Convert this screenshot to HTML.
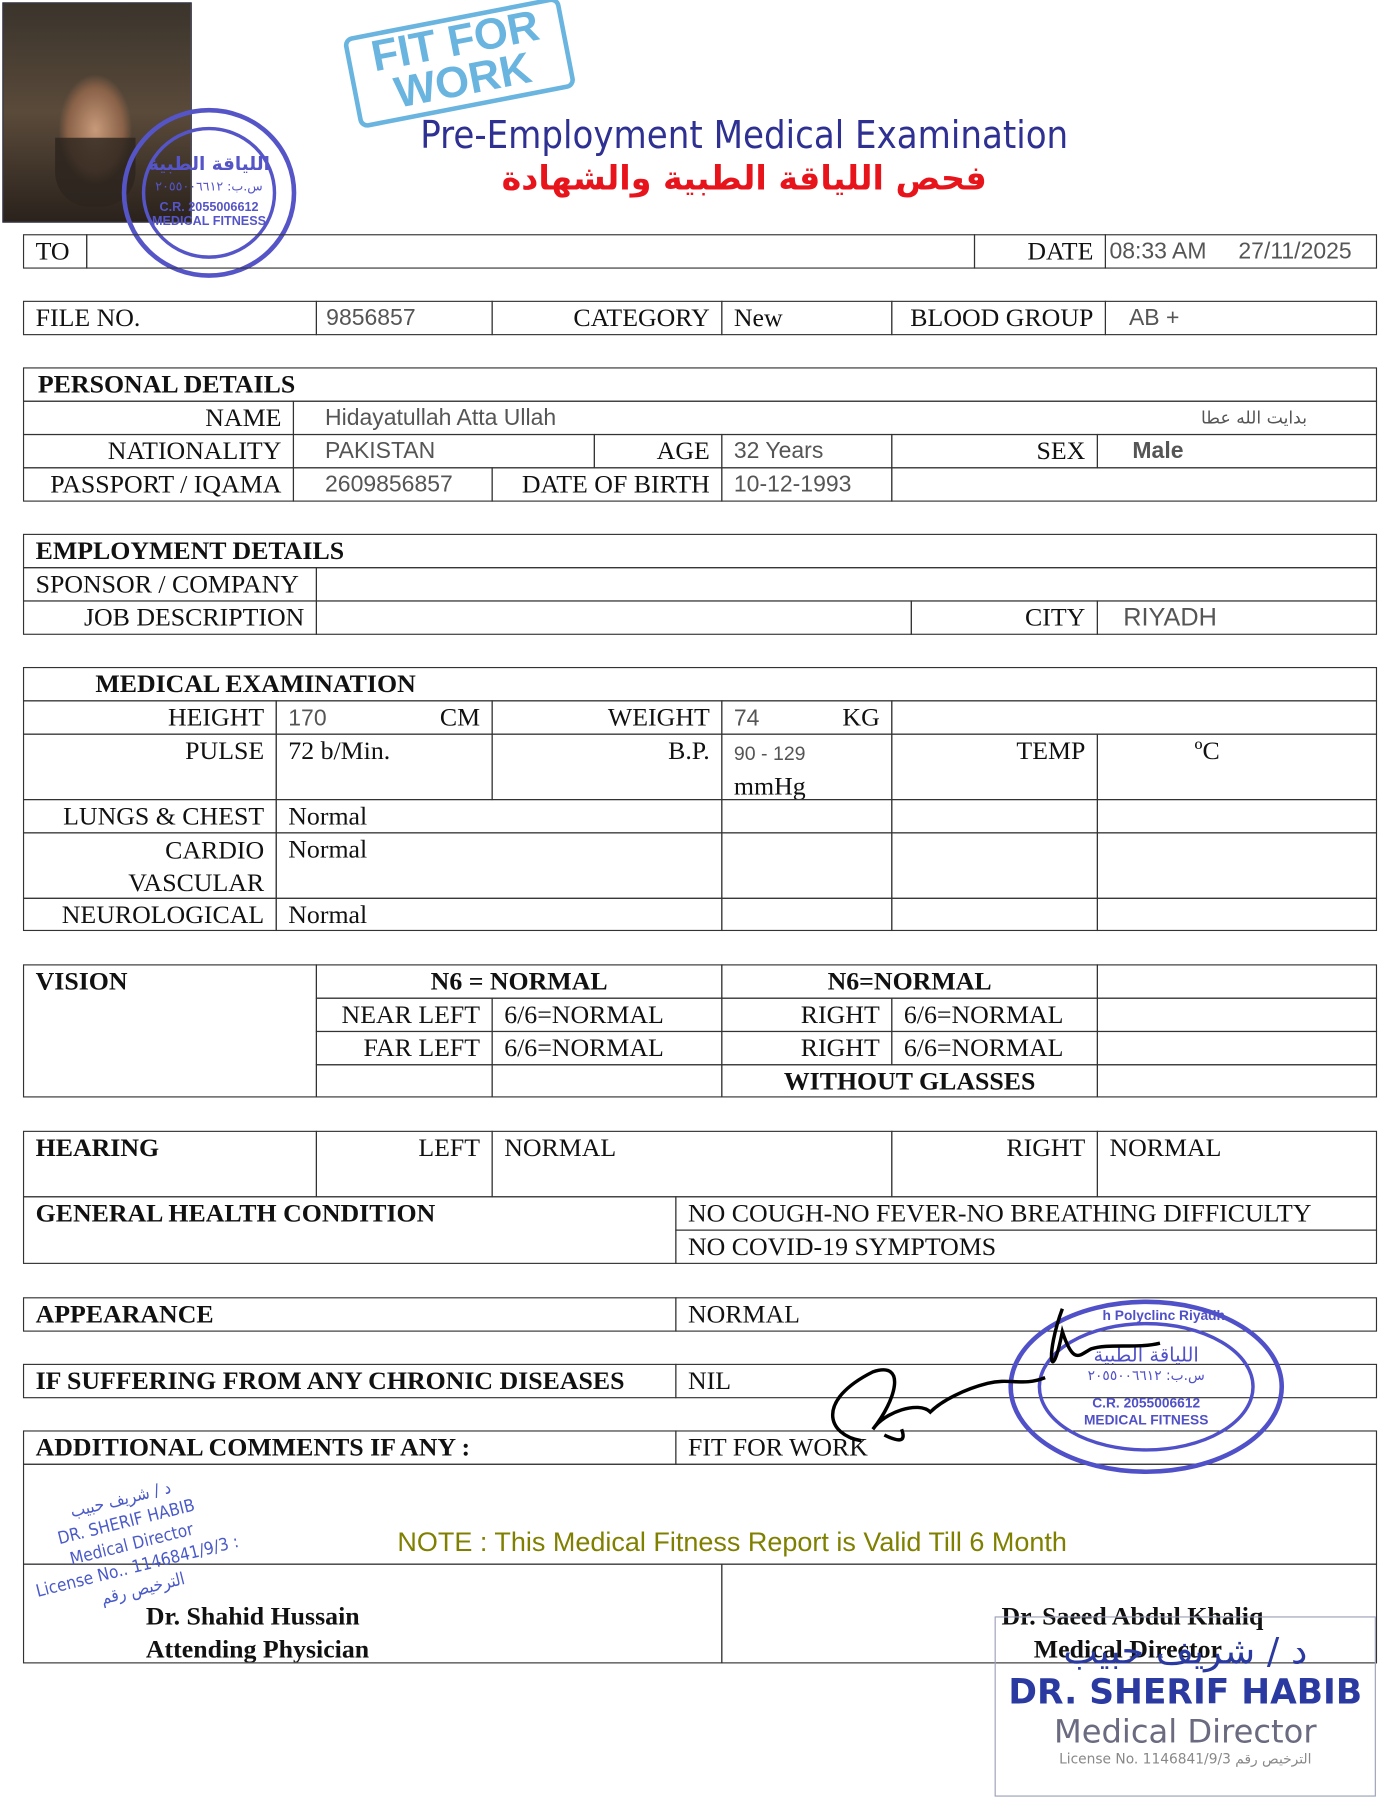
<!DOCTYPE html>
<html><head><meta charset="utf-8"><style>
body{margin:0;background:#fff;width:1400px;height:1800px;overflow:hidden}
#w{position:absolute;left:0;top:0;width:1210px;height:1568px;transform:scale(1.1485,1.148);transform-origin:0 0}
.c{position:absolute;border:1.4px solid #333;box-sizing:border-box;font-family:"Liberation Serif",serif;font-size:22.5px;color:#111;padding:1px 10px;line-height:26px;white-space:nowrap;overflow:hidden}
.r{text-align:right}
.b{font-weight:bold}
.v{font-family:"Liberation Sans",sans-serif;font-size:20px;color:#555}
.ab{position:absolute}
</style></head><body><div id="w">
<div class="ab" style="left:2px;top:2px;width:163px;height:190px;background:radial-gradient(ellipse 40px 60px at 80px 110px,#c79a7a,#8a6248 60%,transparent 80%),linear-gradient(#3a342c,#5a4a3a 50%,#2a221c);border:1px solid #223"></div>
<div class="ab" style="left:48px;top:120px;width:70px;height:60px;border-radius:0 0 30px 30px;background:#2c241e;opacity:.8"></div>
<svg class="ab" style="left:100px;top:90px" width="165" height="160"><ellipse cx="82" cy="78" rx="74" ry="72" fill="none" stroke="#5555c8" stroke-width="4"/><ellipse cx="82" cy="78" rx="57" ry="56" fill="none" stroke="#5555c8" stroke-width="3"/>
<text x="82" y="58" text-anchor="middle" font-family="DejaVu Sans" font-size="16" font-weight="bold" fill="#5555c8">اللياقة الطبية</text>
<text x="82" y="76" text-anchor="middle" font-family="DejaVu Sans" font-size="11" fill="#5555c8">س.ب: ٢٠٥٥٠٠٦٦١٢</text>
<text x="82" y="94" text-anchor="middle" font-family="Liberation Sans" font-size="11" font-weight="bold" fill="#5555c8">C.R. 2055006612</text>
<text x="82" y="106" text-anchor="middle" font-family="Liberation Sans" font-size="11" font-weight="bold" fill="#5555c8">MEDICAL FITNESS</text></svg>
<div class="ab" style="left:304px;top:14px;width:184px;height:72px;border:4px solid #6ab4e0;border-radius:8px;transform:rotate(-11deg);color:#6ab4e0;font-family:'Liberation Sans',sans-serif;font-weight:bold;font-size:38px;line-height:35px;text-align:center;padding-top:1px">FIT FOR<br>WORK</div>
<div class="ab" style="left:300px;top:98px;width:696px;text-align:center;font-family:'DejaVu Sans Condensed','DejaVu Sans',sans-serif;font-size:33px;color:#2e3192">Pre-Employment Medical Examination</div>
<div class="ab" style="left:300px;top:138px;width:696px;text-align:center;font-family:'DejaVu Sans',sans-serif;font-weight:bold;font-size:29px;color:#e8141c">فحص اللياقة الطبية والشهادة</div>

<div class="c" style="left:20px;top:204px;width:56px;height:30px">TO</div>
<div class="c" style="left:75px;top:204px;width:774px;height:30px"></div>
<div class="c r" style="left:848px;top:204px;width:115px;height:30px">DATE</div>
<div class="c v" style="left:962px;top:204px;width:237px;height:30px;padding-left:3px">08:33 AM &nbsp;&nbsp;&nbsp;&nbsp;27/11/2025</div>

<div class="c" style="left:20px;top:262px;width:256px;height:30px">FILE NO.</div>
<div class="c v" style="left:275px;top:262px;width:154px;height:30px;padding-left:8px">9856857</div>
<div class="c r" style="left:428px;top:262px;width:201px;height:30px">CATEGORY</div>
<div class="c" style="left:628px;top:262px;width:149px;height:30px">New</div>
<div class="c r" style="left:776px;top:262px;width:187px;height:30px">BLOOD GROUP</div>
<div class="c v" style="left:962px;top:262px;width:237px;height:30px;padding-left:20px">AB +</div>

<div class="c b" style="left:20px;top:320px;width:1179px;height:30px;padding-left:12px">PERSONAL DETAILS</div>
<div class="c r" style="left:20px;top:349px;width:236px;height:30px">NAME</div>
<div class="c v" style="left:255px;top:349px;width:944px;height:30px;padding-left:27px">Hidayatullah Atta Ullah<span style="position:absolute;right:60px;font-family:'DejaVu Sans';font-size:15px">بدايت الله عطا</span></div>
<div class="c r" style="left:20px;top:378px;width:236px;height:30px">NATIONALITY</div>
<div class="c v" style="left:255px;top:378px;width:263px;height:30px;padding-left:27px">PAKISTAN</div>
<div class="c r" style="left:517px;top:378px;width:112px;height:30px">AGE</div>
<div class="c v" style="left:628px;top:378px;width:149px;height:30px">32 Years</div>
<div class="c r" style="left:776px;top:378px;width:180px;height:30px">SEX</div>
<div class="c v b" style="left:955px;top:378px;width:244px;height:30px;padding-left:30px">Male</div>
<div class="c r" style="left:20px;top:407px;width:236px;height:30px">PASSPORT / IQAMA</div>
<div class="c v" style="left:255px;top:407px;width:174px;height:30px;padding-left:27px">2609856857</div>
<div class="c r" style="left:428px;top:407px;width:201px;height:30px">DATE OF BIRTH</div>
<div class="c v" style="left:628px;top:407px;width:149px;height:30px">10-12-1993</div>
<div class="c" style="left:776px;top:407px;width:423px;height:30px"></div>

<div class="c b" style="left:20px;top:465px;width:1179px;height:30px">EMPLOYMENT DETAILS</div>
<div class="c" style="left:20px;top:494px;width:256px;height:30px">SPONSOR / COMPANY</div>
<div class="c" style="left:275px;top:494px;width:924px;height:30px"></div>
<div class="c r" style="left:20px;top:523px;width:256px;height:30px">JOB DESCRIPTION</div>
<div class="c" style="left:275px;top:523px;width:519px;height:30px"></div>
<div class="c r" style="left:793px;top:523px;width:163px;height:30px">CITY</div>
<div class="c v" style="left:955px;top:523px;width:244px;height:30px;padding-left:22px;font-size:22px">RIYADH</div>

<div class="c b" style="left:20px;top:581px;width:1179px;height:30px;padding-left:62px">MEDICAL EXAMINATION</div>
<div class="c r" style="left:20px;top:610px;width:221px;height:30px">HEIGHT</div>
<div class="c" style="left:240px;top:610px;width:189px;height:30px"><span class="v">170</span><span style="position:absolute;right:10px">CM</span></div>
<div class="c r" style="left:428px;top:610px;width:201px;height:30px">WEIGHT</div>
<div class="c" style="left:628px;top:610px;width:149px;height:30px"><span class="v">74</span><span style="position:absolute;right:10px">KG</span></div>
<div class="c" style="left:776px;top:610px;width:423px;height:30px"></div>
<div class="c r" style="left:20px;top:639px;width:221px;height:58px">PULSE</div>
<div class="c" style="left:240px;top:639px;width:189px;height:58px">72 b/Min.</div>
<div class="c r" style="left:428px;top:639px;width:201px;height:58px">B.P.</div>
<div class="c" style="left:628px;top:639px;width:149px;height:58px;line-height:28px"><span class="v" style="font-size:17px">90 - 129</span><br>mmHg</div>
<div class="c r" style="left:776px;top:639px;width:180px;height:58px">TEMP</div>
<div class="c" style="left:955px;top:639px;width:244px;height:58px;padding-left:84px">ºC</div>
<div class="c r" style="left:20px;top:696px;width:221px;height:30px">LUNGS &amp; CHEST</div>
<div class="c" style="left:240px;top:696px;width:389px;height:30px">Normal</div>
<div class="c" style="left:628px;top:696px;width:149px;height:30px"></div>
<div class="c" style="left:776px;top:696px;width:180px;height:30px"></div>
<div class="c" style="left:955px;top:696px;width:244px;height:30px"></div>
<div class="c r" style="left:20px;top:725px;width:221px;height:58px;line-height:28px">CARDIO<br>VASCULAR</div>
<div class="c" style="left:240px;top:725px;width:389px;height:58px">Normal</div>
<div class="c" style="left:628px;top:725px;width:149px;height:58px"></div>
<div class="c" style="left:776px;top:725px;width:180px;height:58px"></div>
<div class="c" style="left:955px;top:725px;width:244px;height:58px"></div>
<div class="c r" style="left:20px;top:782px;width:221px;height:29px">NEUROLOGICAL</div>
<div class="c" style="left:240px;top:782px;width:389px;height:29px">Normal</div>
<div class="c" style="left:628px;top:782px;width:149px;height:29px"></div>
<div class="c" style="left:776px;top:782px;width:180px;height:29px"></div>
<div class="c" style="left:955px;top:782px;width:244px;height:29px"></div>

<div class="c b" style="left:20px;top:840px;width:256px;height:116px">VISION</div>
<div class="c b" style="left:275px;top:840px;width:354px;height:30px;text-align:center">N6 = NORMAL</div>
<div class="c b" style="left:628px;top:840px;width:328px;height:30px;text-align:center">N6=NORMAL</div>
<div class="c" style="left:955px;top:840px;width:244px;height:30px"></div>
<div class="c r" style="left:275px;top:869px;width:154px;height:30px">NEAR LEFT</div>
<div class="c" style="left:428px;top:869px;width:201px;height:30px">6/6=NORMAL</div>
<div class="c r" style="left:628px;top:869px;width:149px;height:30px">RIGHT</div>
<div class="c" style="left:776px;top:869px;width:180px;height:30px">6/6=NORMAL</div>
<div class="c" style="left:955px;top:869px;width:244px;height:30px"></div>
<div class="c r" style="left:275px;top:898px;width:154px;height:30px">FAR LEFT</div>
<div class="c" style="left:428px;top:898px;width:201px;height:30px">6/6=NORMAL</div>
<div class="c r" style="left:628px;top:898px;width:149px;height:30px">RIGHT</div>
<div class="c" style="left:776px;top:898px;width:180px;height:30px">6/6=NORMAL</div>
<div class="c" style="left:955px;top:898px;width:244px;height:30px"></div>
<div class="c" style="left:275px;top:927px;width:154px;height:29px"></div>
<div class="c" style="left:428px;top:927px;width:201px;height:29px"></div>
<div class="c b" style="left:628px;top:927px;width:328px;height:29px;text-align:center">WITHOUT GLASSES</div>
<div class="c" style="left:955px;top:927px;width:244px;height:29px"></div>

<div class="c b" style="left:20px;top:985px;width:256px;height:58px">HEARING</div>
<div class="c r" style="left:275px;top:985px;width:154px;height:58px">LEFT</div>
<div class="c" style="left:428px;top:985px;width:349px;height:58px">NORMAL</div>
<div class="c r" style="left:776px;top:985px;width:180px;height:58px">RIGHT</div>
<div class="c" style="left:955px;top:985px;width:244px;height:58px">NORMAL</div>
<div class="c b" style="left:20px;top:1042px;width:569px;height:59px">GENERAL HEALTH CONDITION</div>
<div class="c" style="left:588px;top:1042px;width:611px;height:30px">NO COUGH-NO FEVER-NO BREATHING DIFFICULTY</div>
<div class="c" style="left:588px;top:1071px;width:611px;height:30px">NO COVID-19 SYMPTOMS</div>

<div class="c b" style="left:20px;top:1130px;width:569px;height:30px">APPEARANCE</div>
<div class="c" style="left:588px;top:1130px;width:611px;height:30px">NORMAL</div>
<div class="c b" style="left:20px;top:1188px;width:569px;height:30px">IF SUFFERING FROM ANY CHRONIC DISEASES</div>
<div class="c" style="left:588px;top:1188px;width:611px;height:30px">NIL</div>
<div class="c b" style="left:20px;top:1246px;width:569px;height:30px">ADDITIONAL COMMENTS IF ANY :</div>
<div class="c" style="left:588px;top:1246px;width:611px;height:30px">FIT FOR WORK</div>
<div class="c" style="left:20px;top:1275px;width:1179px;height:88px"></div>
<div class="ab" style="left:20px;top:1330px;width:1235px;text-align:center;font-family:'Liberation Sans',sans-serif;font-size:23.5px;color:#808000">NOTE : This Medical Fitness Report is Valid Till 6 Month</div>
<div class="c b" style="left:20px;top:1362px;width:609px;height:87px;padding:30px 0 0 106px;line-height:29px">Dr. Shahid Hussain<br>Attending Physician</div>
<div class="c b" style="left:628px;top:1362px;width:571px;height:87px;padding:30px 0 0 243px;line-height:29px">Dr. Saeed Abdul Khaliq<br>&nbsp;&nbsp;&nbsp;&nbsp;&nbsp;Medical Director</div>

<div class="ab" style="left:20px;top:1320px;transform:rotate(-14deg);transform-origin:0 100%;color:#4a5ac8;font-family:'DejaVu Sans Condensed',sans-serif;font-size:15px;line-height:20px;text-align:center;width:220px">د / شريف حبيب<br>DR. SHERIF HABIB<br>Medical Director<br>License No.. 1146841/9/3 : الترخيص رقم</div>
<svg class="ab" style="left:870px;top:1128px" width="260" height="160"><ellipse cx="128" cy="80" rx="118" ry="74" fill="none" stroke="#5050c8" stroke-width="4"/><ellipse cx="128" cy="80" rx="93" ry="55" fill="none" stroke="#5050c8" stroke-width="3"/>
<text x="128" y="58" text-anchor="middle" font-family="DejaVu Sans" font-size="17" fill="#5050c8">اللياقة الطبية</text>
<text x="128" y="74" text-anchor="middle" font-family="DejaVu Sans" font-size="12" fill="#5050c8">س.ب: ٢٠٥٥٠٠٦٦١٢</text>
<text x="128" y="98" text-anchor="middle" font-family="Liberation Sans" font-size="12" font-weight="bold" fill="#5050c8">C.R. 2055006612</text>
<text x="128" y="113" text-anchor="middle" font-family="Liberation Sans" font-size="12" font-weight="bold" fill="#5050c8">MEDICAL FITNESS</text>
<text x="90" y="22" font-family="Liberation Sans" font-size="12" font-weight="bold" fill="#5050c8">h Polyclinc Riyadh</text></svg>
<svg class="ab" style="left:710px;top:1130px" width="320" height="140"><path d="M40 125 C10 120 0 90 50 65 C80 55 70 90 50 115 C60 100 90 90 100 100 C110 90 130 80 150 75 C170 70 180 78 200 70 M215 10 C200 50 205 80 215 30 C225 60 230 50 240 45 C255 40 280 45 300 40 M60 120 C70 125 80 128 75 115" fill="none" stroke="#000" stroke-width="3"/></svg>
<div class="ab" style="left:866px;top:1408px;width:330px;height:155px;border:1.5px solid #9aa0b8;font-family:'DejaVu Sans',sans-serif;text-align:center;color:#3a4aa0">
<div style="font-size:32px;color:#2a3aa0;margin-top:10px">د / شريف حبيب</div>
<div style="font-size:30px;font-weight:bold;color:#2a3aa0">DR. SHERIF HABIB</div>
<div style="font-size:28px;color:#6a6a80">Medical Director</div>
<div style="font-size:12px;color:#888">License No. 1146841/9/3 الترخيص رقم</div></div>
</div></body></html>
